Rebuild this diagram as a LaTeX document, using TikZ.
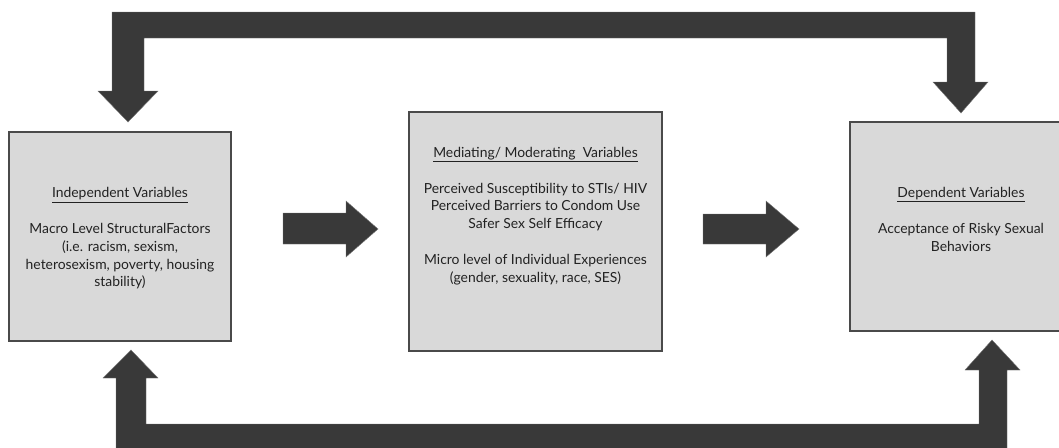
\documentclass[tikz,border=0pt]{standalone}
\usepackage{fontspec}
\setmainfont{Lato}
\usetikzlibrary{calc}
\definecolor{arrowgray}{HTML}{393939}
\definecolor{boxfill}{HTML}{D9D9D9}
\definecolor{boxline}{HTML}{4A4A4A}
\definecolor{txt}{HTML}{222222}
\tikzset{
  varbox/.style={draw=boxline, line width=1.4pt, fill=boxfill},
  blockarrow/.style={fill=arrowgray, draw=arrowgray!70!white, line width=0.4pt},
  boxtext/.style={align=center, text=txt, inner sep=0pt,
    font=\fontsize{13.9}{17.8}\selectfont}
}
\begin{document}
\begin{tikzpicture}[x=1pt,y=-1pt]
\useasboundingbox (0,0) rectangle (1059,447);

% variable boxes
\draw[varbox] (9,132) rectangle (231,341);
\draw[varbox] (409,112) rectangle (662,351);
\draw[varbox] (850,122) rectangle (1075,331);

\node[boxtext] (ind) at (120,238.5) {%
  \underline{Independent Variables}\\[17.8pt]
  Macro Level StructuralFactors\\
  (i.e. racism, sexism,\\
  heterosexism, poverty, housing\\
  stability)};

\node[boxtext] (med) at (535.5,216) {%
  \underline{Mediating/ Moderating\ \ Variables}\\[17.8pt]
  Perceived Susceptibility to STIs/ HIV\\
  Perceived Barriers to Condom Use\\
  Safer Sex Self Efficacy\\[17.8pt]
  Micro level of Individual Experiences\\
  (gender, sexuality, race, SES)};

\node[boxtext] (dep) at (961,219.5) {%
  \underline{Dependent Variables}\\[17.8pt]
  Acceptance of Risky Sexual\\
  Behaviors};

% forward arrows between the boxes
\coordinate (f1) at (378,229);
\coordinate (f2) at (799,229);
\fill[blockarrow] (283,213) -- (346,213) -- (346,201) -- (f1) -- (346,257)
  -- (346,244) -- (283,244) -- cycle;
\fill[blockarrow] (703,214) -- (766,214) -- (766,201) -- (f2) -- (766,257)
  -- (766,244) -- (703,244) -- cycle;

% upper feedback loop, pointing down into both outer boxes
\coordinate (tl) at (128,122);
\coordinate (tr) at (961,113);
\filldraw[blockarrow] (112,91) -- (112,12) -- (975,12) -- (975,82) -- (988,82)
  -- (tr) -- (933,82) -- (947,82) -- (947,38) -- (144,38) -- (144,91)
  -- (158,91) -- (tl) -- (98,91) -- cycle;

% lower feedback loop, pointing up into both outer boxes
\coordinate (bl) at (131,350);
\coordinate (br) at (992,340);
\filldraw[blockarrow] (116,460) -- (116,378) -- (103,378) -- (bl) -- (158,378)
  -- (146,378) -- (146,424) -- (979,424) -- (979,370) -- (965,370) -- (br)
  -- (1020,370) -- (1007,370) -- (1007,460) -- cycle;
\end{tikzpicture}
\end{document}
